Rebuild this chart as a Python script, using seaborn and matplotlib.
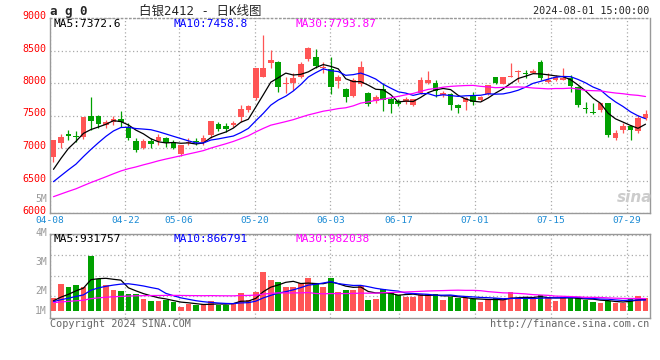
import numpy as np
import pandas as pd
import matplotlib
matplotlib.use('Agg')
import matplotlib.pyplot as plt
import matplotlib.transforms as mtransforms
import seaborn as sns

sns.set_style("white")
plt.rcParams['font.family'] = ['DejaVu Sans Mono', 'Noto Sans CJK SC']

# ---------------- data ----------------
opens = [6866, 7082, 7215, 7185, 7174, 7492, 7492, 7355, 7395, 7446,
         7318, 7108, 6995, 7108, 7113, 7159, 7087, 6903, 7072, 7105,
         7087, 7200, 7369, 7344, 7355, 7470, 7580, 7765, 8097, 8303,
         8330, 7985, 7995, 8100, 8364, 8400, 8225, 8215, 8031, 7903,
         7800, 7985, 7851, 7728, 7903, 7748, 7723, 7703, 7662, 7845,
         7995, 7995, 7810, 7830, 7662, 7713, 7815, 7738, 7826, 8087,
         7985, 8100, 8170, 8155, 8159, 8328, 8020, 8046, 8046, 8082,
         7943, 7620, 7559, 7585, 7697, 7149, 7277, 7344, 7262, 7457]
highs = [7130, 7211, 7277, 7262, 7480, 7790, 7508, 7430, 7497, 7569,
         7380, 7149, 7140, 7150, 7211, 7170, 7128, 7046, 7159, 7150,
         7200, 7415, 7395, 7380, 7420, 7660, 7662, 8230, 8740, 8508,
         8335, 8100, 8160, 8320, 8560, 8523, 8330, 8400, 8123, 7918,
         8070, 8344, 7860, 7810, 7995, 7780, 7760, 7780, 7760, 8100,
         8190, 8046, 7870, 7840, 7680, 7790, 7862, 7800, 7975, 8090,
         8090, 8313, 8200, 8200, 8210, 8354, 8150, 8130, 8236, 8123,
         7950, 7703, 7687, 7700, 7700, 7277, 7380, 7360, 7508, 7585]
lows = [6790, 6995, 7123, 7097, 7134, 7280, 7308, 7310, 7354, 7328,
        7123, 6934, 6980, 6995, 7046, 7021, 6990, 6870, 7046, 7040,
        7050, 7150, 7256, 7242, 7330, 7400, 7550, 7740, 8090, 8230,
        7855, 7840, 7900, 8080, 8340, 8230, 8150, 7830, 7918, 7712,
        7780, 7955, 7650, 7690, 7570, 7535, 7640, 7670, 7650, 7830,
        7990, 7790, 7790, 7585, 7534, 7590, 7660, 7730, 7820, 7990,
        7980, 8090, 8020, 8080, 8150, 8046, 7995, 8030, 8040, 7866,
        7636, 7534, 7523, 7560, 7170, 7123, 7226, 7123, 7226, 7430]
closes = [7123, 7169, 7190, 7165, 7477, 7420, 7365, 7395, 7446, 7405,
          7160, 6970, 7108, 7066, 7174, 7072, 7005, 7046, 7097, 7090,
          7149, 7415, 7287, 7290, 7390, 7600, 7646, 8226, 8236, 8354,
          7943, 8000, 8082, 8287, 8543, 8267, 8240, 7943, 8097, 7780,
          8046, 8241, 7672, 7780, 7738, 7672, 7672, 7748, 7748, 8050,
          8046, 7882, 7851, 7662, 7610, 7764, 7713, 7790, 7969, 7995,
          8087, 8115, 8180, 8145, 8190, 8070, 8046, 8097, 8082, 7959,
          7662, 7595, 7534, 7687, 7200, 7226, 7344, 7277, 7467, 7518]
volumes = [920, 1590, 1450, 1540, 1460, 2980, 1840, 1540, 1300, 1250,
           1100, 1100, 860, 770, 770, 810, 700, 480, 600, 560,
           600, 760, 560, 560, 680, 1170, 810, 1220, 2200, 1790,
           1710, 1460, 1460, 1660, 1900, 1590, 1430, 1900, 1220, 1300,
           1300, 1500, 810, 870, 1350, 1140, 1050, 970, 970, 1090,
           1100, 1100, 810, 940, 890, 890, 840, 710, 840, 890,
           810, 1220, 840, 940, 840, 1050, 940, 780, 940, 890,
           890, 810, 730, 680, 780, 680, 680, 910, 1000, 920]  # thousand lots

# closes / volumes before 04-08 (not shown, estimated from where the MA lines start)
prior_closes = [5930, 5960, 5990, 6010, 5995, 6040, 6070, 6060, 6100, 6130,
                6150, 6140, 6180, 6210, 6250, 6250, 6270, 6300, 6330, 6345,
                6250, 6280, 6300, 6310, 6321, 6330, 6420, 6620, 6866]
prior_volumes = [620, 580, 700, 650, 610, 690, 640, 600, 720, 660,
                 630, 680, 590, 700, 650, 670, 640, 710, 680, 680,
                 650, 720, 680, 700, 700, 690, 760, 700, 780]

tick_labels = ['04-08', '04-22', '05-06', '05-20', '06-03', '06-17', '07-01', '07-15', '07-29']
tick_idx = [0, 10, 17, 27, 37, 46, 56, 66, 76]
vol_labels = ['5M', '4M', '3M', '2M', '1M']

RED = '#ff5555'
GREEN = '#00a000'
GRID = '#aaaaaa'
FRAME = '#999999'

# moving averages
n_prior = len(prior_closes)
c_all = pd.Series(prior_closes + closes, dtype=float)
v_all = pd.Series(prior_volumes + volumes, dtype=float) * 1000
ma_price = {w: c_all.rolling(w).mean().iloc[n_prior:].values for w in (5, 10, 30)}
ma_vol = {w: v_all.rolling(w).mean().iloc[n_prior:].values for w in (5, 10, 30)}

o = np.array(opens, float)
h = np.array(highs, float)
l = np.array(lows, float)
c = np.array(closes, float)
v = np.array(volumes, float) * 1000
x = np.arange(len(c))
col = np.where(c >= o, RED, GREEN)

W, H = 660, 360
fig = plt.figure(figsize=(W / 100, H / 100), dpi=100)
ax = fig.add_axes([49.5 / W, 1 - 213 / H, 600.5 / W, 195 / H])
axv = fig.add_axes([49.5 / W, 1 - 318 / H, 600.5 / W, 83.7 / H])

# sina puts date gridlines on a slightly wider step than the candles
tick_pos = [i * 7.6 / 7.5 - 0.53 for i in tick_idx]
vol_base = 0.28e6

for a in (ax, axv):
    a.set_xlim(-0.47, 79.6)
    a.set_xticks(tick_pos)
    a.grid(True, ls=(0, (1, 2)), color=GRID, lw=0.9)
    a.set_axisbelow(True)
    for s in a.spines.values():
        s.set_color(FRAME)
        s.set_linewidth(1)
    a.tick_params(length=0)
ax.spines['top'].set_linestyle((0, (1, 2)))

# candles
ax.vlines(x, l, h, colors=col, lw=0.9, zorder=2)
body = np.maximum(np.abs(c - o), 14)
ax.bar(x, body, bottom=np.minimum(o, c), width=0.75, color=col, lw=0, zorder=3)
for w, clr in ((5, 'black'), (10, '#0000ff'), (30, '#ff00ff')):
    sns.lineplot(x=x, y=ma_price[w], ax=ax, color=clr, lw=0.9, zorder=4)
ax.set_ylim(6000, 9000)
ax.set_yticks(np.arange(6000, 9001, 500))
ax.set_yticklabels([str(t) for t in range(6000, 9001, 500)], color='red', fontsize=7.2)
ax.tick_params(axis='y', pad=2)
# price labels sit a little above their gridlines
lift = mtransforms.ScaledTranslation(0, 3 / 100, fig.dpi_scale_trans)
for lab in ax.get_yticklabels():
    lab.set_transform(lab.get_transform() + lift)
ax.set_xticklabels(tick_labels, color='#1a8ad4', fontsize=6.8)
ax.tick_params(axis='x', pad=2.5)

# volume
axv.bar(x, v - vol_base, bottom=vol_base, width=0.75, color=col, lw=0, zorder=3)
for w, clr in ((5, 'black'), (10, '#0000ff'), (30, '#ff00ff')):
    sns.lineplot(x=x, y=ma_vol[w], ax=axv, color=clr, lw=0.9, zorder=4)
axv.set_ylim(-0.074e6, 4.03e6)
axv.set_yticks([1e6, 2e6, 3e6, 4e6])
axv.set_yticklabels([])
axv.set_xticklabels([])
# sina spreads the volume labels on their own spacing, not on the gridlines
for lab, yp in zip(vol_labels, [199, 233.5, 262, 291, 310.7]):
    fig.text(47 / W, 1 - yp / H, lab, fontsize=7, color=FRAME, va='center', ha='right')

# texts
fig.text(50 / W, 1 - 11 / H, 'a g 0', fontsize=9, weight='bold', va='center', ha='left')
fig.text(200 / W, 1 - 11 / H, '白银2412 - 日K线图', fontsize=9, va='center', ha='center')
fig.text(649 / W, 1 - 11 / H, '2024-08-01 15:00:00', fontsize=7.3, va='center', ha='right')

for xp, txt, clr in ((54, 'MA5:7372.6', 'black'), (174, 'MA10:7458.8', '#0000ff'),
                     (295, 'MA30:7793.87', '#ff00ff')):
    fig.text(xp / W, 1 - 24 / H, txt, fontsize=8, color=clr, va='center', ha='left')
for xp, txt, clr in ((54, 'MA5:931757', 'black'), (174, 'MA10:866791', '#0000ff'),
                     (295, 'MA30:982038', '#ff00ff')):
    fig.text(xp / W, 1 - 238.5 / H, txt, fontsize=8, color=clr, va='center', ha='left')

fig.text(635 / W, 1 - 197 / H, 'sina', fontsize=11, color='#cccccc', style='italic',
         weight='bold', va='center', ha='center', family='DejaVu Sans')
fig.text(50 / W, 1 - 324 / H, 'Copyright 2024 SINA.COM', fontsize=7.3, color='#666666',
         va='center', ha='left')
fig.text(649 / W, 1 - 324 / H, 'http://finance.sina.com.cn', fontsize=7.3, color='#666666',
         va='center', ha='right')

fig.savefig('out.png', dpi=100)
